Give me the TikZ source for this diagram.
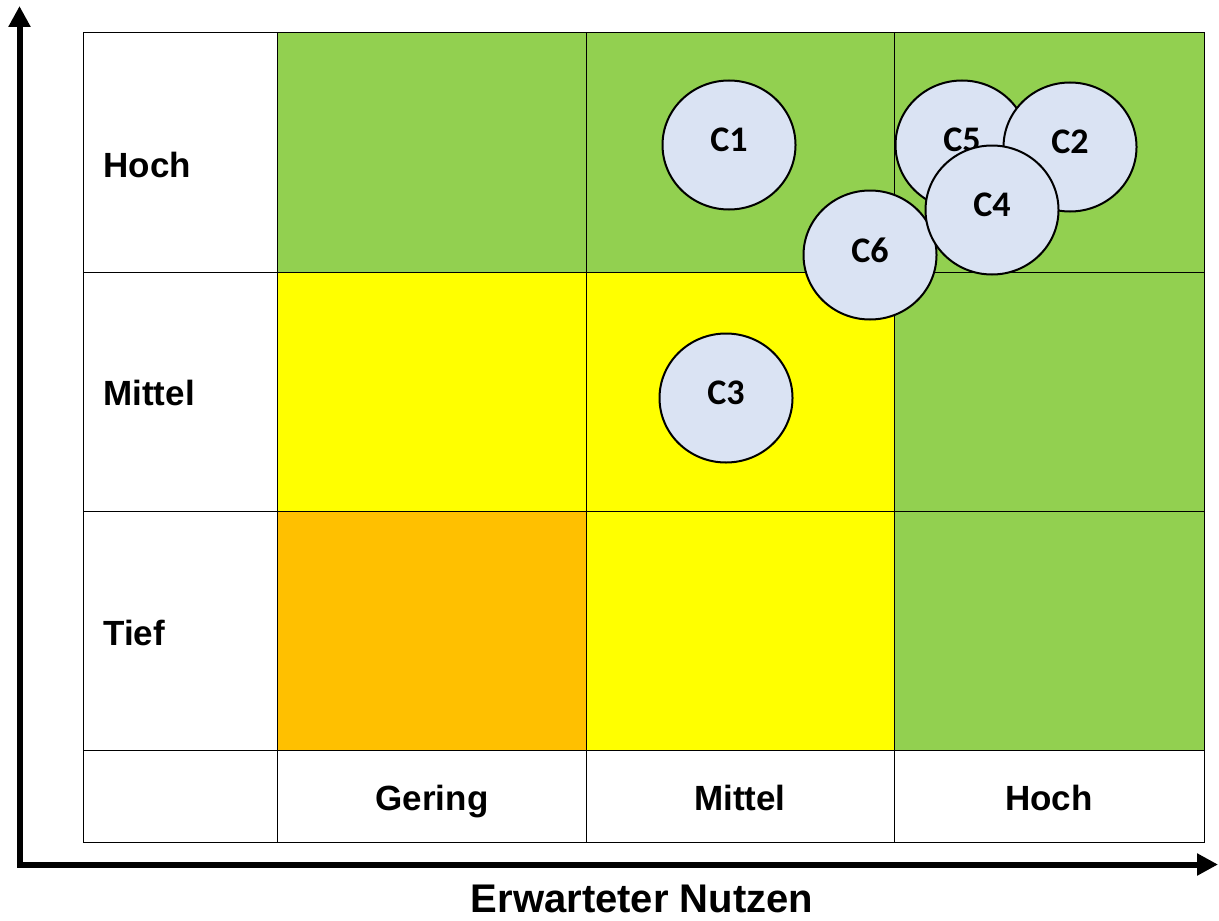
\documentclass[tikz,border=0pt]{standalone}
\usepackage{fontspec}
\setmainfont{Liberation Sans}
\newfontfamily\ballfont{Carlito}
\usetikzlibrary{arrows.meta,shapes.geometric}
\definecolor{hochgruen}{HTML}{92D050}
\definecolor{mittelgelb}{HTML}{FFFF00}
\definecolor{tieforange}{HTML}{FFC000}
\definecolor{ballblau}{HTML}{DAE3F3}

\begin{document}
\begin{tikzpicture}[x=0.5pt,y=-0.5pt,
  cellline/.style={black,line width=0.5pt},
  axisline/.style={line width=3pt,line join=miter,
    {Triangle[width=10.5pt,length=10.5pt]}-{Triangle[width=10.5pt,length=10.5pt]}},
  rowlbl/.style={anchor=base west,inner sep=0pt,font=\fontsize{17.5}{21}\selectfont\bfseries},
  collbl/.style={anchor=base,inner sep=0pt,font=\fontsize{17.5}{21}\selectfont\bfseries},
  axislbl/.style={anchor=base,inner sep=0pt,font=\fontsize{20}{24}\selectfont\bfseries},
  ball/.style={ellipse,draw=black,line width=1pt,fill=ballblau,inner sep=0pt,
    minimum width=66.5pt,minimum height=64.5pt,text depth=5pt,
    font=\fontsize{18}{22}\ballfont\bfseries}]
\useasboundingbox (0,0) rectangle (1219,920);
% colour fields
\fill [hochgruen] (277,33) rectangle (1204,272);
\fill [mittelgelb] (277,272) rectangle (894,511);
\fill [hochgruen] (894,272) rectangle (1204,750);
\fill [tieforange] (277,511) rectangle (586,750);
\fill [mittelgelb] (586,511) rectangle (894,750);
% grid
\draw [cellline] (83,33) rectangle (1204,842);
\draw [cellline] (277,33) -- (277,842);
\draw [cellline] (586,33) -- (586,842);
\draw [cellline] (894,33) -- (894,842);
\draw [cellline] (83,272) -- (1204,272);
\draw [cellline] (83,511) -- (1204,511);
\draw [cellline] (83,750) -- (1204,750);
% axes
\coordinate (ytop) at (19.5,6);
\coordinate (origin) at (19.5,864.5);
\coordinate (xend) at (1218,864.5);
\draw [axisline] (ytop) -- (origin) -- (xend);
% labels
\node [rowlbl] (yhoch) at (103,177) {Hoch};
\node [rowlbl] (ymittel) at (103,405.5) {Mittel};
\node [rowlbl] (ytief) at (103,645) {Tief};
\node [collbl] (xgering) at (432,810) {Gering};
\node [collbl] (xmittel) at (740,810) {Mittel};
\node [collbl] (xhoch) at (1049,810) {Hoch};
\node [axislbl] (nutzen) at (642,912) {Erwarteter Nutzen};
% criteria
\node [ball] (c1) at (729,145) {C1};
\node [ball] (c3) at (726,398) {C3};
\node [ball] (c6) at (870,255) {C6};
\node [ball] (c5) at (962,145) {C5};
\node [ball] (c2) at (1070,147) {C2};
\node [ball] (c4) at (992,210) {C4};
\end{tikzpicture}
\end{document}
